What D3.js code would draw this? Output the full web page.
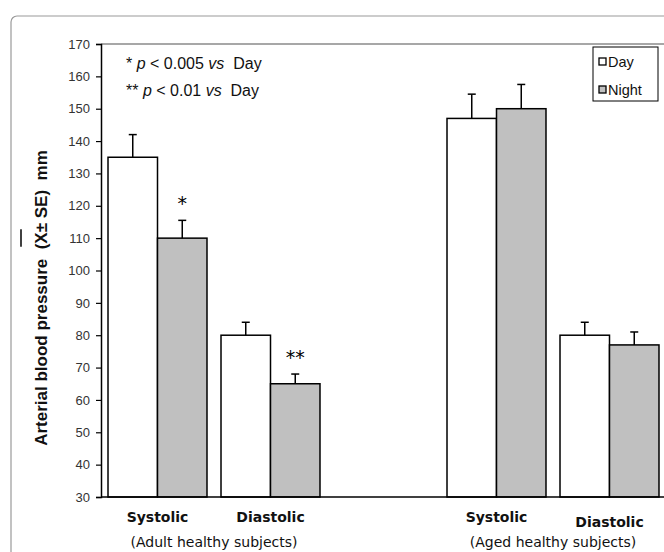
<!DOCTYPE html>
<html><head><meta charset="utf-8">
<script src="https://cdn.jsdelivr.net/npm/d3@7"></script>
<style>body{margin:0;background:#fff}svg{display:block}svg text{white-space:pre}</style>
</head><body>
<svg id="c" width="664" height="552"></svg>
<script>
const categories = ["adultSys","adultDia","gap","agedSys","agedDia"];
const categoryLabels = ["Systolic","Diastolic","","Systolic","Diastolic"];
const groupLabels = ["(Adult healthy subjects)","(Aged healthy subjects)"];
const series = ["Day","Night"];
const dayValues = [135, 80, null, 147, 80];
const nightValues = [110, 65, null, 150, 77];
const dayErrors = [7, 4, null, 7.5, 4];
const nightErrors = [5.5, 3, null, 7.5, 4];
const nightMarks = ["*", "**", "", "", ""];
const yTicks = [30,40,50,60,70,80,90,100,110,120,130,140,150,160,170];

(function(){
const svg = d3.select("#c");
const fills = {Day:"#ffffff", Night:"#c0c0c0"};
const pLeft = 101, pTop = 44, pBottom = 497, pRight = 666;
const arial = "'Liberation Sans', Arial, sans-serif";

// outer frame
svg.append("rect").attr("x",11).attr("y",16).attr("width",720).attr("height",600)
  .attr("rx",6).attr("fill","none").attr("stroke","#9a9a9a").attr("stroke-width",1.2);

const y = d3.scaleLinear().domain([30,170]).range([pBottom, pTop]);
const x = d3.scaleBand().domain(categories).range([pLeft, pRight]).paddingInner(0.124).paddingOuter(0.062);
const xs = d3.scaleBand().domain(series).range([0, x.bandwidth()]);

// plot top border
svg.append("line").attr("x1",pLeft).attr("x2",700).attr("y1",pTop).attr("y2",pTop)
  .attr("stroke","#8a8a8a").attr("stroke-width",1.5);

const rows = [];
categories.forEach((c,i)=>{
  if(dayValues[i]!=null) rows.push({c, s:"Day", v:dayValues[i], e:dayErrors[i], m:""});
  if(nightValues[i]!=null) rows.push({c, s:"Night", v:nightValues[i], e:nightErrors[i], m:nightMarks[i]});
});

const g = svg.append("g");
g.selectAll("rect.bar").data(rows).join("rect").attr("class","bar")
  .attr("x", d=>x(d.c)+xs(d.s)).attr("width", xs.bandwidth())
  .attr("y", d=>y(d.v)).attr("height", d=>pBottom-y(d.v))
  .attr("fill", d=>fills[d.s]).attr("stroke","#000").attr("stroke-width",1.5);

// error bars
rows.forEach(d=>{
  const cx = x(d.c)+xs(d.s)+xs.bandwidth()/2;
  g.append("line").attr("x1",cx).attr("x2",cx).attr("y1",y(d.v)).attr("y2",y(d.v+d.e))
    .attr("stroke","#000").attr("stroke-width",1.5);
  g.append("line").attr("x1",cx-4).attr("x2",cx+4).attr("y1",y(d.v+d.e)).attr("y2",y(d.v+d.e))
    .attr("stroke","#000").attr("stroke-width",1.5);
  if(d.m){
    g.append("text").attr("x",cx).attr("y",y(d.v+d.e)-10).attr("text-anchor","middle")
      .attr("font-family","DejaVu Sans, sans-serif").attr("font-size",19).text(d.m);
  }
});

// y axis
const yAxis = d3.axisLeft(y).tickValues(yTicks).tickSize(5).tickPadding(6);
const ya = svg.append("g").attr("transform",`translate(${pLeft},0)`).call(yAxis);
ya.select(".domain").attr("stroke","#000").attr("stroke-width",1.5);
ya.selectAll(".tick line").attr("stroke","#000").attr("stroke-width",1.2);
ya.selectAll(".tick text").attr("font-family",arial).attr("font-size",13).attr("fill","#333");

// x axis line
svg.append("line").attr("x1",pLeft).attr("x2",700).attr("y1",pBottom).attr("y2",pBottom)
  .attr("stroke","#000").attr("stroke-width",1.5);

// category labels
const comic = "'DejaVu Sans',sans-serif";
categories.forEach((c,i)=>{
  if(!categoryLabels[i]) return;
  svg.append("text").attr("x", x(c)+x.bandwidth()/2).attr("y", c==="agedDia"?527:522)
    .attr("text-anchor","middle").attr("font-family",comic).attr("font-weight","bold")
    .attr("font-size",14).attr("fill","#111").text(categoryLabels[i]);
});
const groupCenters = [
  (x("adultSys")+x("adultDia")+x.bandwidth())/2,
  (x("agedSys")+x("agedDia")+x.bandwidth())/2
];
groupLabels.forEach((t,i)=>{
  svg.append("text").attr("x", groupCenters[i]).attr("y", 547).attr("text-anchor","middle")
    .attr("font-family",comic).attr("font-size",14).attr("fill","#111").text(t);
});

// y title
const tx = 47, ty = 298;
const yt = svg.append("text").attr("transform",`translate(${tx},${ty}) rotate(-90)`)
  .attr("text-anchor","middle").attr("font-family",arial)
  .attr("font-weight","bold").attr("font-size",17).attr("fill","#111");
const preStr = "Arterial blood pressure  (";
yt.append("tspan").text(preStr);
yt.append("tspan").text("X");
yt.append("tspan").text("\u00B1 SE)  mm");
{
  const node = yt.node();
  const full = node.getComputedTextLength();
  const xStart = node.getSubStringLength(0, preStr.length);
  const xW = node.getSubStringLength(preStr.length, 1);
  const a = -full/2 + xStart - 3, b = -full/2 + xStart + xW + 3;
  svg.append("line").attr("transform",`translate(${tx},${ty}) rotate(-90)`)
    .attr("x1",a).attr("x2",b).attr("y1",-26).attr("y2",-26)
    .attr("stroke","#111").attr("stroke-width",1.6);
}

// annotations
const ann = [["* ","p"," < 0.005 ","vs","  Day"],["** ","p"," < 0.01 ","vs","  Day"]];
ann.forEach((parts,i)=>{
  const t = svg.append("text").attr("x",126).attr("y",69+i*27)
    .attr("font-family",arial).attr("font-size",16).attr("fill","#111");
  parts.forEach((p,j)=>t.append("tspan").attr("font-style", j%2===1?"italic":"normal").text(p));
});

// legend
const lg = svg.append("g");
lg.append("rect").attr("x",593).attr("y",47).attr("width",65).attr("height",54)
  .attr("fill","#fff").attr("stroke","#000").attr("stroke-width",1);
series.forEach((s,i)=>{
  lg.append("rect").attr("x",599).attr("y",58+i*28).attr("width",7).attr("height",7)
    .attr("fill",fills[s]).attr("stroke","#000").attr("stroke-width",1.3);
  lg.append("text").attr("x",608).attr("y",67+i*28).attr("font-family",arial)
    .attr("font-size",14.5).attr("fill","#111").text(s);
});
})();
</script>
</body></html>
